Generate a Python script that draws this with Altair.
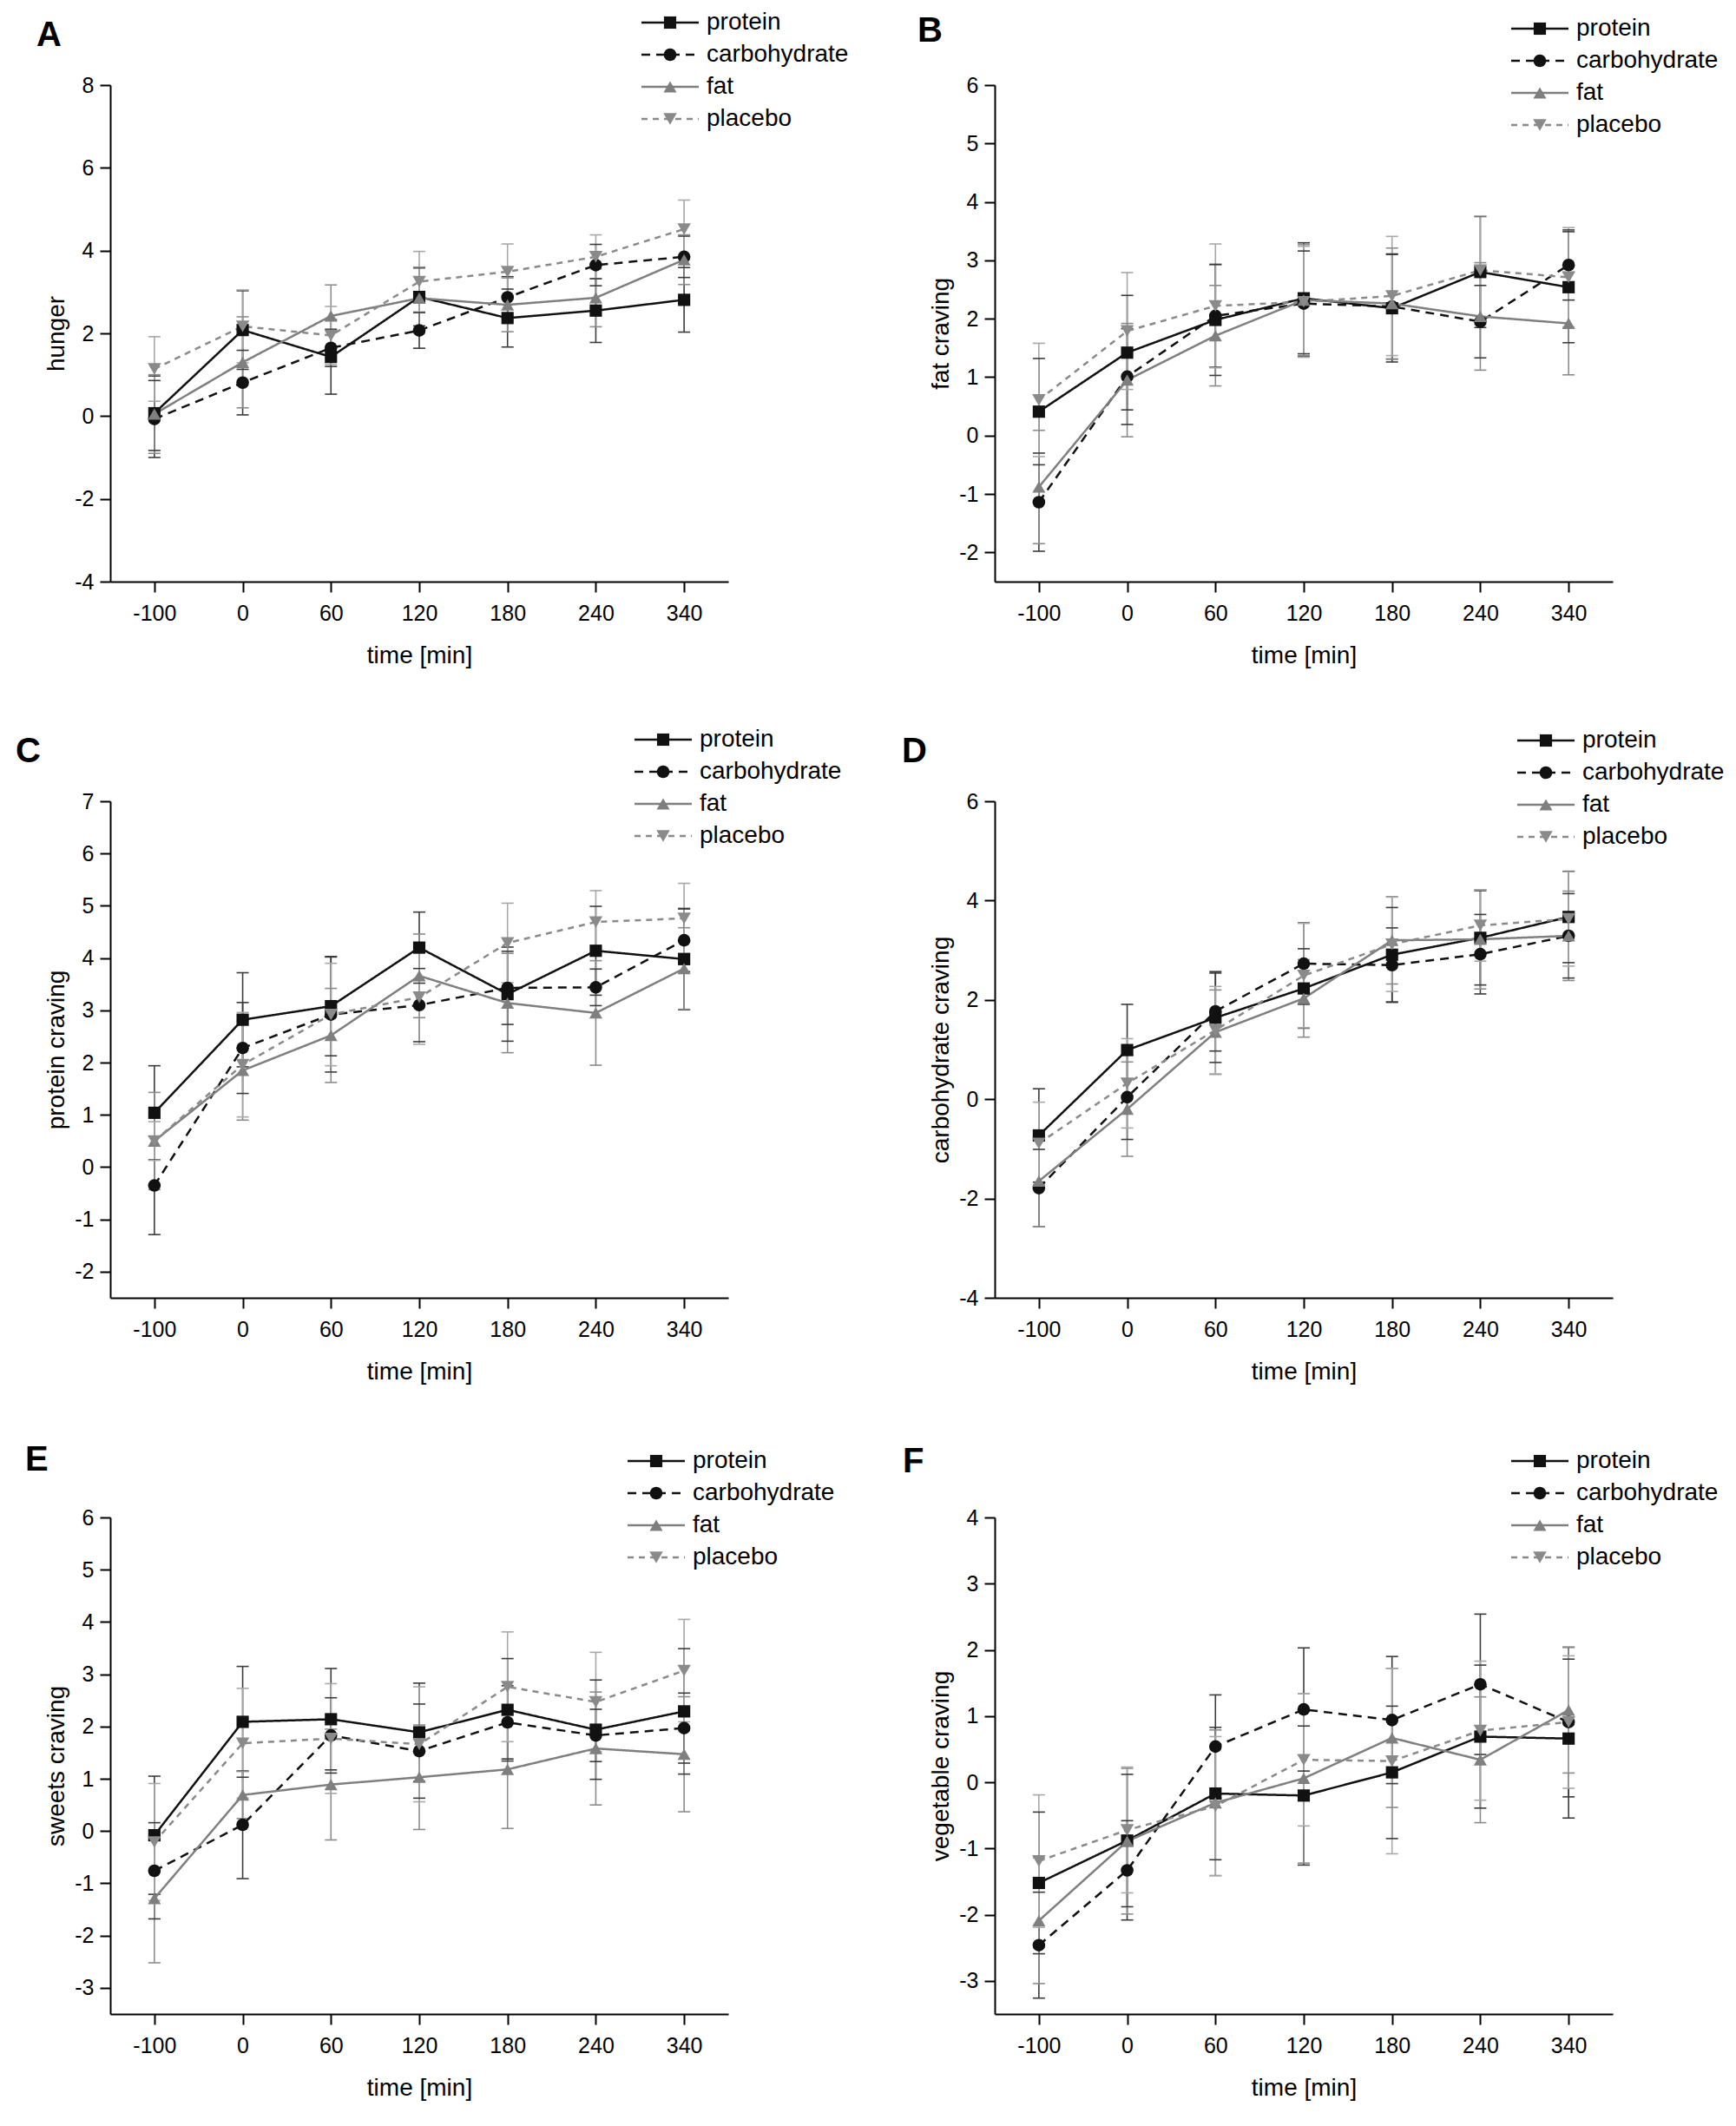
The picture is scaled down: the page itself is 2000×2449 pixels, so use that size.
import altair as alt
import pandas as pd

FONT = "Liberation Sans"
W, H = 712, 572

TIMES = ["-100", "0", "60", "120", "180", "240", "340"]
SERIES = ["protein", "carbohydrate", "fat", "placebo"]

# ---- Panel A: hunger ----
A_protein = [0.07, 2.08, 1.43, 2.88, 2.37, 2.55, 2.81]
A_carb = [-0.07, 0.81, 1.65, 2.07, 2.87, 3.65, 3.85]
A_fat = [0.05, 1.30, 2.42, 2.85, 2.69, 2.86, 3.78]
A_placebo = [1.14, 2.17, 1.95, 3.25, 3.49, 3.85, 4.52]
A_protein_se = [0.90, 0.95, 0.90, 0.70, 0.70, 0.77, 0.78]
A_carb_se = [0.93, 0.78, 0.45, 0.43, 0.50, 0.50, 0.50]
A_fat_se = [0.95, 1.10, 0.75, 0.75, 0.65, 0.70, 0.60]
A_placebo_se = [0.78, 0.88, 0.70, 0.73, 0.67, 0.53, 0.70]

# ---- Panel B: fat craving ----
B_protein = [0.41, 1.42, 1.98, 2.35, 2.18, 2.80, 2.54]
B_carb = [-1.14, 1.01, 2.05, 2.26, 2.21, 1.95, 2.92]
B_fat = [-0.88, 0.95, 1.71, 2.32, 2.26, 2.04, 1.92]
B_placebo = [0.61, 1.79, 2.22, 2.29, 2.39, 2.83, 2.71]
B_protein_se = [0.91, 0.98, 0.95, 0.95, 0.92, 0.95, 0.95]
B_carb_se = [0.84, 0.82, 0.88, 0.90, 0.90, 0.62, 0.60]
B_fat_se = [0.97, 0.97, 0.86, 0.95, 0.95, 0.92, 0.88]
B_placebo_se = [0.97, 1.00, 1.06, 0.95, 1.02, 0.93, 0.85]

# ---- Panel C: protein craving ----
C_protein = [1.04, 2.82, 3.08, 4.20, 3.31, 4.14, 3.98]
C_carb = [-0.35, 2.28, 2.92, 3.10, 3.43, 3.44, 4.34]
C_fat = [0.50, 1.85, 2.52, 3.66, 3.14, 2.95, 3.80]
C_placebo = [0.50, 1.96, 2.92, 3.25, 4.29, 4.69, 4.76]
C_protein_se = [0.90, 0.90, 0.95, 0.68, 0.90, 0.85, 0.97]
C_carb_se = [0.94, 0.87, 1.10, 0.70, 0.70, 0.35, 0.60]
C_fat_se = [0.93, 0.95, 0.90, 0.80, 0.95, 1.00, 0.78]
C_placebo_se = [0.37, 1.00, 0.98, 0.90, 0.76, 0.60, 0.67]

# ---- Panel D: carbohydrate craving ----
D_protein = [-0.73, 0.99, 1.64, 2.23, 2.91, 3.25, 3.67]
D_carb = [-1.79, 0.04, 1.77, 2.73, 2.70, 2.92, 3.29]
D_fat = [-1.65, -0.20, 1.35, 2.03, 3.20, 3.22, 3.29]
D_placebo = [-0.89, 0.32, 1.39, 2.49, 3.12, 3.50, 3.63]
D_protein_se = [0.94, 0.92, 0.90, 0.80, 0.95, 0.95, 0.92]
D_carb_se = [0.78, 0.85, 0.80, 0.82, 0.75, 0.80, 0.85]
D_fat_se = [0.92, 0.95, 0.85, 0.78, 0.88, 1.00, 0.90]
D_placebo_se = [0.83, 0.90, 0.88, 1.05, 0.95, 0.72, 0.95]

# ---- Panel E: sweets craving ----
E_protein = [-0.08, 2.09, 2.14, 1.89, 2.32, 1.94, 2.29]
E_carb = [-0.76, 0.12, 1.83, 1.53, 2.08, 1.83, 1.97]
E_fat = [-1.29, 0.69, 0.89, 1.03, 1.18, 1.58, 1.47]
E_placebo = [-0.21, 1.68, 1.77, 1.66, 2.76, 2.47, 3.07]
E_protein_se = [1.13, 1.06, 0.97, 0.94, 0.98, 0.95, 1.20]
E_carb_se = [0.92, 1.03, 0.72, 0.90, 0.70, 0.50, 0.67]
E_fat_se = [1.23, 0.45, 1.06, 1.00, 1.13, 1.08, 1.10]
E_placebo_se = [1.12, 1.05, 1.05, 1.10, 1.05, 0.95, 0.98]

# ---- Panel F: vegetable craving ----
F_protein = [-1.52, -0.88, -0.17, -0.20, 0.15, 0.69, 0.66]
F_carb = [-2.46, -1.33, 0.54, 1.10, 0.94, 1.48, 0.91]
F_fat = [-2.09, -0.89, -0.31, 0.06, 0.67, 0.34, 1.09]
F_placebo = [-1.19, -0.72, -0.36, 0.34, 0.32, 0.78, 0.91]
F_protein_se = [1.07, 1.00, 1.00, 1.05, 1.00, 1.08, 1.20]
F_carb_se = [0.80, 0.75, 0.78, 0.93, 0.96, 1.06, 1.13]
F_fat_se = [0.95, 1.10, 1.10, 1.28, 1.05, 0.95, 0.95]
F_placebo_se = [1.00, 0.95, 1.05, 1.00, 1.40, 1.05, 1.00]

PANELS = [
    dict(letter="A", ytitle="hunger", domain=[-4, 8], ticks=[-4, -2, 0, 2, 4, 6, 8],
         means=[A_protein, A_carb, A_fat, A_placebo],
         se=[A_protein_se, A_carb_se, A_fat_se, A_placebo_se],
         leg=(612, -72), let=(-85, -57)),
    dict(letter="B", ytitle="fat craving", domain=[-2.5, 6], ticks=[-2, -1, 0, 1, 2, 3, 4, 5, 6],
         means=[B_protein, B_carb, B_fat, B_placebo],
         se=[B_protein_se, B_carb_se, B_fat_se, B_placebo_se],
         leg=(595, -65), let=(-89, -62)),
    dict(letter="C", ytitle="protein craving", domain=[-2.5, 7], ticks=[-2, -1, 0, 1, 2, 3, 4, 5, 6, 7],
         means=[C_protein, C_carb, C_fat, C_placebo],
         se=[C_protein_se, C_carb_se, C_fat_se, C_placebo_se],
         leg=(604, -71), let=(-109, -57)),
    dict(letter="D", ytitle="carbohydrate craving", domain=[-4, 6], ticks=[-4, -2, 0, 2, 4, 6],
         means=[D_protein, D_carb, D_fat, D_placebo],
         se=[D_protein_se, D_carb_se, D_fat_se, D_placebo_se],
         leg=(602, -70), let=(-107, -57)),
    dict(letter="E", ytitle="sweets craving", domain=[-3.5, 6], ticks=[-3, -2, -1, 0, 1, 2, 3, 4, 5, 6],
         means=[E_protein, E_carb, E_fat, E_placebo],
         se=[E_protein_se, E_carb_se, E_fat_se, E_placebo_se],
         leg=(596, -65), let=(-98, -66)),
    dict(letter="F", ytitle="vegetable craving", domain=[-3.5, 4], ticks=[-3, -2, -1, 0, 1, 2, 3, 4],
         means=[F_protein, F_carb, F_fat, F_placebo],
         se=[F_protein_se, F_carb_se, F_fat_se, F_placebo_se],
         leg=(595, -65), let=(-106, -64)),
]

LINE_COLORS = ["#111111", "#111111", "#7f7f7f", "#8a8a8a"]
ERR_COLORS = ["#3c3c3c", "#3c3c3c", "#8c8c8c", "#a8a8a8"]
DASHES = [[1, 0], [10, 7], [1, 0], [7, 6]]
SHAPES = ["square", "circle", "triangle-up", "triangle-down"]
SIZES = [200, 240, 400, 400]

color_scale = alt.Scale(domain=SERIES, range=LINE_COLORS)
err_scale = alt.Scale(domain=SERIES, range=ERR_COLORS)
dash_scale = alt.Scale(domain=SERIES, range=DASHES)
shape_scale = alt.Scale(domain=SERIES, range=SHAPES)
size_scale = alt.Scale(domain=SERIES, range=SIZES)


def panel(p):
    rows = []
    for s_i, s in enumerate(SERIES):
        for t_i, t in enumerate(TIMES):
            m = p["means"][s_i][t_i]
            e = p["se"][s_i][t_i]
            rows.append(dict(time=t, series=s, mean=m, lo=m - e, hi=m + e))
    df = pd.DataFrame(rows)
    base = alt.Chart(df)

    xaxis = alt.Axis(title="time [min]", labelAngle=0, labelPadding=12, tickSize=12,
                     titleX=W / 2, titleY=85, titleBaseline="middle", titleAlign="center")
    yaxis = alt.Axis(title=p["ytitle"], values=p["ticks"], labelPadding=7, tickSize=12,
                     labelExpr="'' + datum.value",
                     titleX=-62, titleY=H / 2, titleAngle=270, titleBaseline="middle",
                     titleAlign="center")
    yscale = alt.Scale(domain=p["domain"], nice=False, zero=False)

    def xenc():
        return alt.X("time:O", sort=TIMES, scale=alt.Scale(type="point", padding=0.5),
                     axis=xaxis, title="time [min]")

    def yenc(field):
        return alt.Y(field, scale=yscale, axis=yaxis, title=p["ytitle"])

    stroke = alt.Stroke("series:N", scale=err_scale, legend=None)
    stems = base.mark_rule(strokeWidth=1.6).encode(
        x=xenc(), y=yenc("lo:Q"), y2="hi:Q", stroke=stroke)
    cap_lo = base.mark_rule(strokeWidth=1.6, xOffset=-7, x2Offset=7).encode(
        x=xenc(), x2="time:O", y=yenc("lo:Q"), stroke=stroke)
    cap_hi = base.mark_rule(strokeWidth=1.6, xOffset=-7, x2Offset=7).encode(
        x=xenc(), x2="time:O", y=yenc("hi:Q"), stroke=stroke)

    color = alt.Color("series:N", scale=color_scale, legend=None)
    dash = alt.StrokeDash("series:N", scale=dash_scale, legend=None)
    shape = alt.Shape("series:N", scale=shape_scale, legend=None)
    size = alt.Size("series:N", scale=size_scale, legend=None)

    lines = base.mark_line(strokeWidth=2.5).encode(
        x=xenc(), y=yenc("mean:Q"), color=color, strokeDash=dash)
    pts = base.mark_point(filled=True, opacity=1).encode(
        x=xenc(), y=yenc("mean:Q"), color=color, shape=shape, size=size)

    lx, ly0 = p["leg"]
    leg_df = pd.DataFrame({"series": SERIES, "idx": list(range(len(SERIES)))})
    leg = alt.Chart(leg_df).transform_calculate(ly=f"{ly0} + datum.idx * 37")
    ly = alt.Y("ly:Q", scale=None, axis=None)
    leg_rule = leg.mark_rule(strokeWidth=2.5).encode(
        x=alt.value(lx), x2=alt.value(lx + 66), y=ly, color=color, strokeDash=dash)
    leg_pts = leg.mark_point(filled=True, opacity=1).encode(
        x=alt.value(lx + 33), y=ly, color=color, shape=shape, size=size)
    leg_txt = leg.mark_text(align="left", baseline="middle", fontSize=28, font=FONT,
                            color="black").encode(
        x=alt.value(lx + 75), y=ly, text="series:N")

    lt = alt.Chart(pd.DataFrame({"letter": [p["letter"]]})).mark_text(
        align="left", baseline="middle", fontSize=40, fontWeight="bold", font=FONT,
        color="black").encode(
        x=alt.value(p["let"][0]), y=alt.value(p["let"][1]), text="letter:N")

    return alt.layer(stems, cap_lo, cap_hi, lines, pts, leg_rule, leg_pts, leg_txt, lt).properties(
        width=W, height=H)


charts = [panel(p) for p in PANELS]

chart = alt.concat(*charts, columns=2, spacing={"row": 253, "column": 307}, bounds="flush").resolve_scale(
    x="independent", y="independent"
).properties(
    padding={"left": 9, "top": 3, "right": 5, "bottom": 5},
    background="white",
).configure_view(
    stroke="transparent"
).configure_axis(
    grid=False,
    domainColor="black", domainWidth=2,
    tickColor="black", tickWidth=2,
    labelFont=FONT, labelFontSize=25, labelColor="black",
    titleFont=FONT, titleFontSize=28, titleFontWeight="normal", titleColor="black",
).configure_text(font=FONT)

chart.save("out.html", embed_options={"renderer": "svg", "actions": False})
